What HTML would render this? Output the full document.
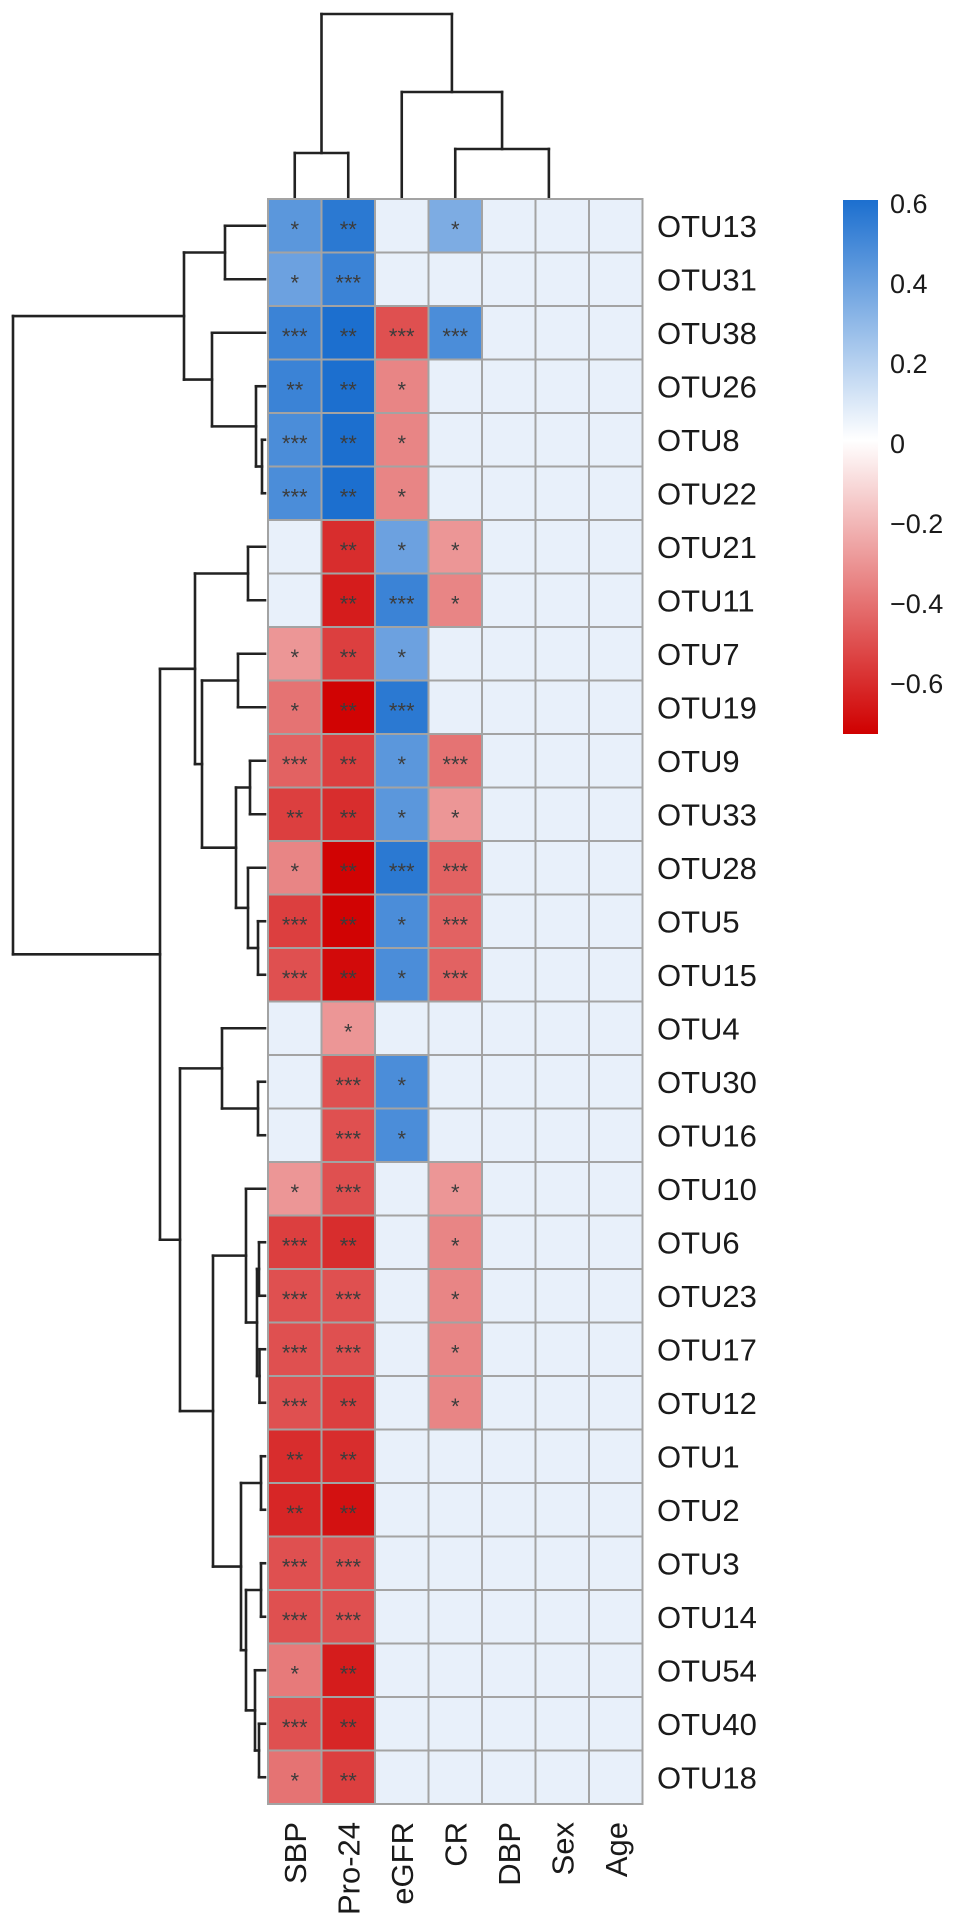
<!DOCTYPE html>
<html><head><meta charset="utf-8"><style>
html,body{margin:0;padding:0;background:#fff;}
svg{display:block;font-family:"Liberation Sans",Arial,sans-serif;}
</style></head><body>
<svg id="chart" width="969" height="1930" viewBox="0 0 969 1930" xmlns="http://www.w3.org/2000/svg">
<defs>
<linearGradient id="cbar" x1="0" y1="0" x2="0" y2="1">
<stop offset="0" stop-color="#1c6fcf"/>
<stop offset="0.45" stop-color="#ffffff"/>
<stop offset="1" stop-color="#d00000"/>
</linearGradient>
</defs>
<g id="rowdend"></g>
<g id="coldend"></g>
<g id="cells"></g>
<g id="rowlabels"></g>
<g id="collabels"></g>
<g id="legend">
<rect x="843" y="200" width="35" height="534" fill="url(#cbar)"/>
</g>
</svg>
<script>
const rows = ["OTU13","OTU31","OTU38","OTU26","OTU8","OTU22","OTU21","OTU11","OTU7","OTU19","OTU9","OTU33","OTU28","OTU5","OTU15","OTU4","OTU30","OTU16","OTU10","OTU6","OTU23","OTU17","OTU12","OTU1","OTU2","OTU3","OTU14","OTU54","OTU40","OTU18"];
const cols = ["SBP","Pro-24","eGFR","CR","DBP","Sex","Age"];
const B = 0.035;
const sbp   = [0.4,0.35,0.5,0.5,0.45,0.45,B,B,-0.3,-0.4,-0.45,-0.55,-0.35,-0.55,-0.5,B,B,B,-0.3,-0.55,-0.5,-0.5,-0.5,-0.6,-0.62,-0.5,-0.5,-0.38,-0.5,-0.4];
const pro24 = [0.55,0.5,0.6,0.6,0.6,0.6,-0.6,-0.65,-0.55,-0.72,-0.55,-0.6,-0.72,-0.72,-0.7,-0.3,-0.5,-0.5,-0.5,-0.6,-0.5,-0.5,-0.55,-0.6,-0.68,-0.5,-0.5,-0.65,-0.62,-0.55];
const egfr  = [B,B,-0.5,-0.35,-0.35,-0.35,0.35,0.5,0.35,0.55,0.4,0.4,0.55,0.45,0.45,B,0.45,0.45,B,B,B,B,B,B,B,B,B,B,B,B];
const cr    = [0.3,B,0.45,B,B,B,-0.3,-0.35,B,B,-0.4,-0.3,-0.45,-0.45,-0.45,B,B,B,-0.3,-0.35,-0.35,-0.35,-0.35,B,B,B,B,B,B,B];
const dbp   = rows.map(()=>B);
const sex   = rows.map(()=>B);
const age   = rows.map(()=>B);
const sigSbp   = ["*","*","***","**","***","***","","","*","*","***","**","*","***","***","","","","*","***","***","***","***","**","**","***","***","*","***","*"];
const sigPro24 = ["**","***","**","**","**","**","**","**","**","**","**","**","**","**","**","*","***","***","***","**","***","***","**","**","**","***","***","**","**","**"];
const sigEgfr  = ["","","***","*","*","*","*","***","*","***","*","*","***","*","*","","*","*","","","","","","","","","","","",""];
const sigCr    = ["*","","***","","","","*","*","","","***","*","***","***","***","","","","*","*","*","*","*","","","","","","",""];
const legendTicks = [0.6,0.4,0.2,0,-0.2,-0.4,-0.6];
const legendLabels = ["0.6","0.4","0.2","0","\u22120.2","\u22120.4","\u22120.6"];
// dendrogram merge heights (distance units)
const rowTree = [252,[81,[40,0,1],[53,2,[9,3,[3,4,5]]]],[105,[70,[17,6,7],[63,[27,8,9],[29,[15,10,11],[17,12,[7,13,14]]]]],[85,[43,15,[7,16,17]],[52,[19,18,[8,[6,19,20],[5.5,21,22]]],[24,[4,23,24],[19,[4,25,26],[10,27,[6,28,29]]]]]]]];
const colTree = [183,[44,0,1],[105,2,[48,3,[0,4,[0,5,6]]]]];

const matrix = [sbp,pro24,egfr,cr,dbp,sex,age];
const sigs = [sigSbp,sigPro24,sigEgfr,sigCr];
const NS="http://www.w3.org/2000/svg";
const gx0=268, gy0=199, cw=53.5, ch=53.5;
function xCol(j){return gx0+j*cw;}
function yRow(i){return gy0+i*ch;}
function mix(a,b,t){return a.map((v,k)=>Math.round(v+(b[k]-v)*t));}
function color(v){
  if(v>=0){const t=Math.pow(Math.min(v/0.6,1),0.8);const c=mix([255,255,255],[28,111,207],t);return `rgb(${c})`;}
  const t=Math.min(-v/0.73,1);const c=mix([255,255,255],[208,0,0],t);return `rgb(${c})`;
}
function mk(tag,attrs,parent){const e=document.createElementNS(NS,tag);for(const k in attrs)e.setAttribute(k,attrs[k]);parent.appendChild(e);return e;}

const cellsG=document.getElementById('cells');
for(let j=0;j<cols.length;j++){
  for(let i=0;i<rows.length;i++){
    const r=mk('rect',{x:xCol(j),y:yRow(i),width:cw,height:ch,fill:color(matrix[j][i]),stroke:'#a3a3a3','stroke-width':2},cellsG);
    
    
    if(j<sigs.length && sigs[j][i]){
      const t=mk('text',{x:xCol(j)+cw/2,y:yRow(i)+ch/2+11,'text-anchor':'middle','font-size':22,fill:'#3c3c3c'},cellsG);
      t.textContent=sigs[j][i];
      
      
    }
  }
}
const rl=document.getElementById('rowlabels');
rows.forEach((n,i)=>{
  const t=mk('text',{x:657,y:yRow(i)+ch/2+11,'font-size':31,fill:'#1a1a1a'},rl);
  t.textContent=n;
  
  
});
const cl=document.getElementById('collabels');
cols.forEach((n,j)=>{
  const cx=xCol(j)+cw/2+11, cy=1822;
  const t=mk('text',{x:cx,y:cy,'font-size':31,fill:'#1a1a1a','text-anchor':'end',transform:`rotate(-90 ${cx} ${cy})`},cl);
  t.textContent=n;
  
  
});
const lg=document.getElementById('legend');
legendTicks.forEach((v,k)=>{
  const t=mk('text',{x:890,y:443-v*400+10,'font-size':27,fill:'#1a1a1a'},lg);
  t.textContent=legendLabels[k];
  
  
});
// dendrograms
function line(g,x1,y1,x2,y2){
  const l=mk('line',{x1,y1,x2,y2,stroke:'#222','stroke-width':2.6,'stroke-linecap':'square'},g);
  
  
}
const rg=document.getElementById('rowdend');
const leafX=265;
function drawRow(n){
  if(typeof n==='number')return {pos:yRow(n)+ch/2,h:0};
  const a=drawRow(n[1]),b=drawRow(n[2]);const x=leafX-n[0];
  line(rg,x,a.pos,leafX-a.h,a.pos);line(rg,x,b.pos,leafX-b.h,b.pos);line(rg,x,a.pos,x,b.pos);
  return {pos:(a.pos+b.pos)/2,h:n[0]};
}
drawRow(rowTree);
const cg=document.getElementById('coldend');
const leafY=197;
function drawCol(n){
  if(typeof n==='number')return {pos:xCol(n)+cw/2,h:0};
  const a=drawCol(n[1]),b=drawCol(n[2]);
  if(n[0]>0){const y=leafY-n[0];
    line(cg,a.pos,y,a.pos,leafY-a.h);line(cg,b.pos,y,b.pos,leafY-b.h);line(cg,a.pos,y,b.pos,y);}
  return {pos:(a.pos+b.pos)/2,h:n[0]};
}
drawCol(colTree);
</script>
</body></html>
